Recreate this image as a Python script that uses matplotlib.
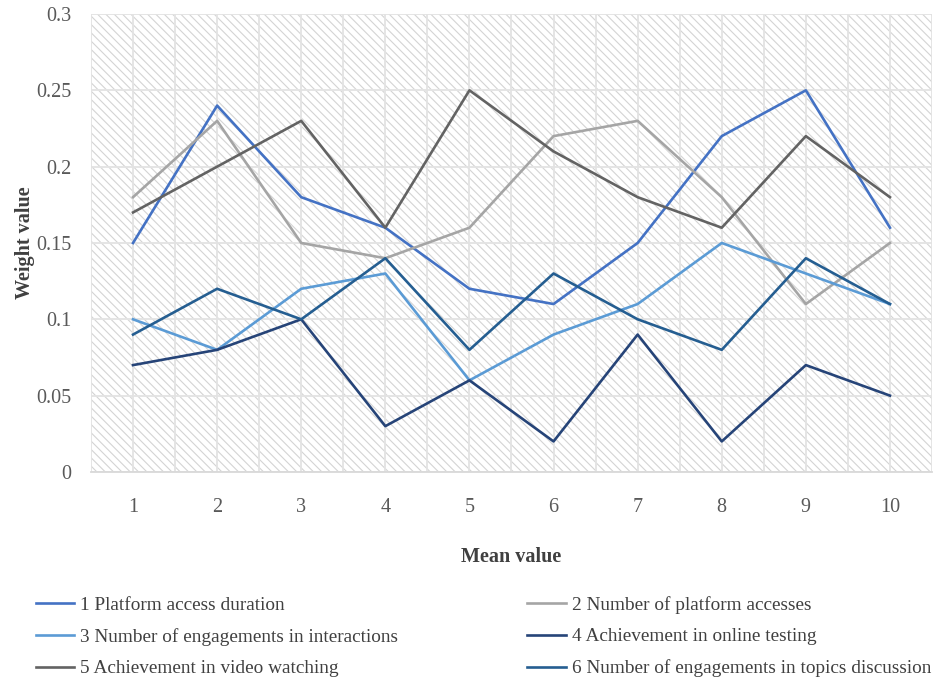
import matplotlib.pyplot as plt
from matplotlib.patches import Rectangle

plt.rcParams['font.family'] = ['Liberation Serif', 'DejaVu Serif']
plt.rcParams['hatch.linewidth'] = 0.8

x = [1, 2, 3, 4, 5, 6, 7, 8, 9, 10]
labels = [
    '1 Platform access duration',
    '2 Number of platform accesses',
    '3 Number of engagements in interactions',
    '4 Achievement in online testing',
    '5 Achievement in video watching',
    '6 Number of engagements in topics discussion',
]
access_duration = [0.15, 0.24, 0.18, 0.16, 0.12, 0.11, 0.15, 0.22, 0.25, 0.16]
platform_accesses = [0.18, 0.23, 0.15, 0.14, 0.16, 0.22, 0.23, 0.18, 0.11, 0.15]
interactions = [0.10, 0.08, 0.12, 0.13, 0.06, 0.09, 0.11, 0.15, 0.13, 0.11]
online_testing = [0.07, 0.08, 0.10, 0.03, 0.06, 0.02, 0.09, 0.02, 0.07, 0.05]
video_watching = [0.17, 0.20, 0.23, 0.16, 0.25, 0.21, 0.18, 0.16, 0.22, 0.18]
topics_discussion = [0.09, 0.12, 0.10, 0.14, 0.08, 0.13, 0.10, 0.08, 0.14, 0.11]

series = [access_duration, platform_accesses, interactions,
          online_testing, video_watching, topics_discussion]
colors = ['#4472C4', '#A5A5A5', '#5B9BD5', '#264478', '#636363', '#255E91']

fig = plt.figure(figsize=(9.35, 6.83), dpi=100)
ax = fig.add_axes([0.0973, 0.309, 0.8995, 0.6705])

# hatched plot area background
ax.add_patch(Rectangle((0, 0), 1, 1, transform=ax.transAxes, facecolor='white',
                       edgecolor='#d4d4d4', lw=0, hatch='\\' * 4, zorder=0))

lines = []
for vals, c, lab in zip(series, colors, labels):
    ln, = ax.plot(x, vals, color=c, lw=1.9, label=lab, zorder=3)
    lines.append(ln)

ax.set_xlim(0.5, 10.5)
ax.set_ylim(0, 0.3)
ax.set_xticks(x)
ax.set_xticklabels([str(i) for i in x])
ax.set_yticks([0, 0.05, 0.1, 0.15, 0.2, 0.25, 0.3])
ax.set_yticklabels(['0', '0.05', '0.1', '0.15', '0.2', '0.25', '0.3'])
ax.set_xticks([i + 0.5 for i in range(0, 11)], minor=True)

ax.grid(True, which='major', color='#e3e3e3', lw=1.3, zorder=1)
ax.grid(True, which='minor', axis='x', color='#e3e3e3', lw=1.3, zorder=1)
ax.set_axisbelow(True)

for s in ['top', 'right', 'left']:
    ax.spines[s].set_visible(False)
ax.spines['bottom'].set_color('#d9d9d9')
ax.spines['bottom'].set_linewidth(1.3)
ax.tick_params(which='both', length=0, labelsize=14.5, colors='#595959')
ax.tick_params(axis='x', pad=19)
ax.tick_params(axis='y', pad=14)

ax.set_xlabel('Mean value', fontsize=14.5, fontweight='bold', color='#404040', labelpad=21)
ax.set_ylabel('Weight value', fontsize=14.5, fontweight='bold', color='#404040', labelpad=1)

order = [0, 2, 4, 1, 3, 5]
fig.legend([lines[i] for i in order], [labels[i] for i in order],
           loc='upper left', bbox_to_anchor=(0.0195, 0.153), ncol=2, frameon=False,
           fontsize=13.9, handlelength=2.0, handletextpad=0.3, columnspacing=6.7,
           labelspacing=0.73, labelcolor='#404040')

fig.savefig('out.png', dpi=100)
